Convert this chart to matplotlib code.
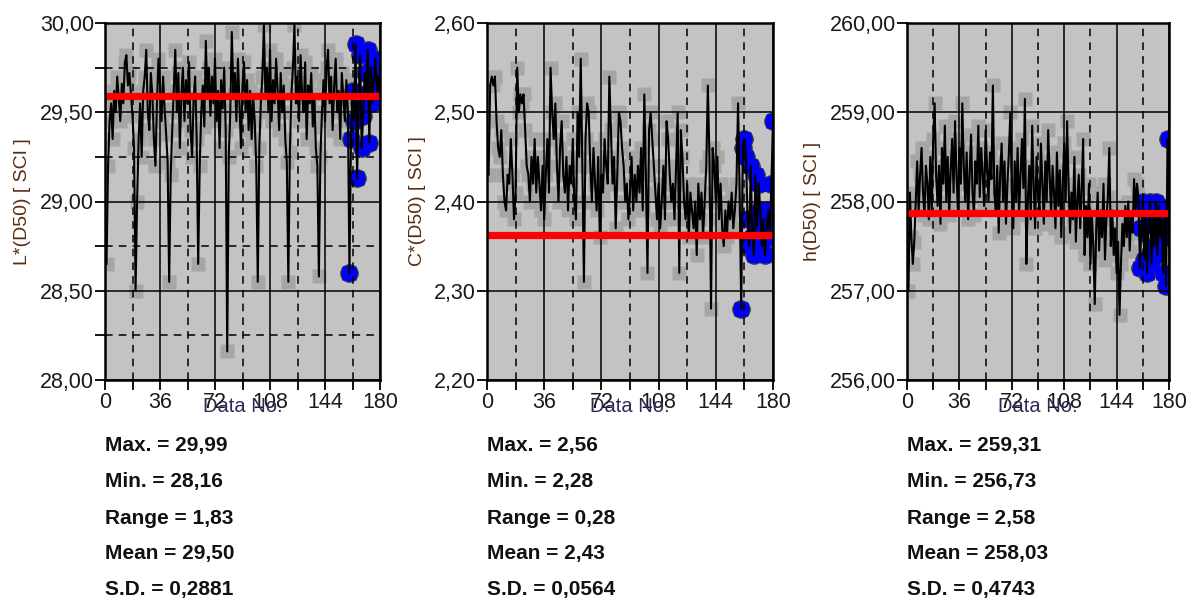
import matplotlib
matplotlib.use("Agg")
import matplotlib.pyplot as plt
from matplotlib.ticker import FixedLocator, FuncFormatter

plt.rcParams['font.family'] = ['Liberation Sans', 'DejaVu Sans']

# ---------------- data ----------------
data_no = list(range(1, 181))

l_values = [
    28.65,
    29.20, 29.45, 29.55, 29.35, 29.62, 29.50, 29.70, 29.58, 29.45, 29.66, 29.55, 29.78, 29.82, 29.65, 29.72, 29.60, 29.48, 29.30,
    28.50,
    29.00, 29.35, 29.55, 29.25, 29.62, 29.70, 29.85, 29.50, 29.40, 29.72, 29.60, 29.35, 29.20, 29.55, 29.80, 29.65, 29.45, 29.70, 29.52, 29.38, 29.22,
    28.55,
    29.15, 29.40, 29.62, 29.85, 29.50, 29.72, 29.30, 29.60, 29.75, 29.45, 29.68, 29.55, 29.78, 29.40, 29.25, 29.58, 29.70, 29.35,
    28.65,
    29.20, 29.50, 29.65, 29.42, 29.90, 29.60, 29.75, 29.48, 29.70, 29.55, 29.80, 29.45, 29.62, 29.30, 29.68, 29.52, 29.75, 29.40,
    28.16,
    29.25, 29.50, 29.95, 29.60, 29.72, 29.45, 29.80, 29.55, 29.30, 29.65, 29.78, 29.50, 29.68, 29.40, 29.62, 29.35, 29.58, 29.45, 29.20,
    28.55,
    29.30, 29.55, 29.70, 29.99, 29.60, 29.75, 29.50, 29.85, 29.45, 29.68, 29.55, 29.80, 29.62, 29.40, 29.72, 29.50, 29.65, 29.35, 29.22,
    28.55,
    29.28, 29.60, 29.75, 29.99, 29.55, 29.70, 29.45, 29.82, 29.60, 29.50, 29.78, 29.35, 29.65, 29.55, 29.72, 29.42, 29.60, 29.30, 29.20,
    28.58,
    29.25, 29.50, 29.68, 29.45, 29.75, 29.85, 29.55, 29.70, 29.40, 29.65, 29.80, 29.50, 29.62, 29.35, 29.72, 29.58, 29.45, 29.68, 29.50,
    28.60,
    29.35, 29.62, 29.45, 29.88, 29.13, 29.55, 29.82, 29.30, 29.48, 29.72, 29.60, 29.85, 29.33, 29.75, 29.55, 29.68, 29.80, 29.62, 29.70, 29.58,
]

c_values = [
    2.43, 2.53, 2.54, 2.53, 2.54, 2.49, 2.46, 2.45, 2.48, 2.43,
    2.40, 2.39, 2.43, 2.42, 2.47, 2.43, 2.38, 2.41, 2.55, 2.50,
    2.52, 2.51, 2.52, 2.48, 2.44, 2.43, 2.40, 2.45, 2.42, 2.47,
    2.41, 2.45, 2.42, 2.39, 2.44, 2.38, 2.43, 2.47, 2.41, 2.55,
    2.50, 2.47, 2.51, 2.44, 2.40, 2.46, 2.49, 2.43, 2.41, 2.45,
    2.39, 2.44, 2.42, 2.47, 2.40, 2.38, 2.50, 2.45, 2.56, 2.44,
    2.31, 2.47, 2.51, 2.50, 2.44, 2.40, 2.46, 2.42, 2.39, 2.45,
    2.36, 2.43, 2.41, 2.47, 2.44, 2.42, 2.54, 2.48, 2.42, 2.45,
    2.37, 2.43, 2.50, 2.49, 2.46, 2.44, 2.40, 2.42, 2.38, 2.41,
    2.45, 2.39, 2.43, 2.40, 2.44, 2.41, 2.46, 2.39, 2.52, 2.43,
    2.32, 2.48, 2.50, 2.47, 2.44, 2.41, 2.38, 2.42, 2.37, 2.40,
    2.44, 2.38, 2.49, 2.47, 2.43, 2.40, 2.42, 2.38, 2.44, 2.50,
    2.32, 2.48, 2.45, 2.40, 2.38, 2.42, 2.36, 2.41, 2.39, 2.37,
    2.40, 2.34, 2.42, 2.38, 2.41, 2.36, 2.40, 2.44, 2.53, 2.45,
    2.28, 2.46, 2.44, 2.40, 2.45, 2.38, 2.42, 2.37, 2.35, 2.39,
    2.36, 2.40, 2.38, 2.41, 2.37, 2.39, 2.42, 2.51, 2.41, 2.28,
    2.46, 2.47, 2.45, 2.38, 2.35, 2.44, 2.36, 2.34, 2.43, 2.37,
    2.42, 2.39, 2.35, 2.38, 2.34, 2.37, 2.39, 2.36, 2.42, 2.49,
]

h_values = [
    257.00, 258.10, 257.60, 257.30, 257.55, 258.00, 258.45, 257.90, 258.30, 258.60,
    258.10, 257.85, 258.40, 258.20, 257.80, 258.50, 257.90, 258.70, 259.10, 258.30,
    257.95, 258.40, 257.75, 258.60, 258.20, 258.85, 258.00, 258.50, 257.85, 258.35,
    258.70, 258.10, 258.90, 258.30, 257.90, 258.60, 258.20, 259.10, 258.40, 258.00,
    258.55, 257.80, 258.30, 258.75, 258.10, 257.85, 258.45, 258.20, 258.85, 258.05,
    258.60, 258.30, 257.95, 258.80, 258.40, 258.00, 258.55, 258.25, 259.30, 258.10,
    257.90, 258.40, 257.65, 258.30, 258.65, 258.00, 258.45, 257.75, 258.20, 258.55,
    259.00, 258.10, 257.70, 258.45, 258.00, 258.60, 257.85, 258.30, 258.70, 258.15,
    259.15, 257.30, 258.00, 258.40, 257.80, 258.85, 258.20, 257.70, 258.50, 258.10,
    257.90, 258.65, 258.20, 257.75, 258.45, 258.00, 258.80, 258.30, 257.85, 258.40,
    258.10, 257.70, 258.55, 257.95, 258.35, 257.60, 258.20, 258.65, 258.00, 258.90,
    258.20, 257.65, 258.10, 257.80, 258.50, 257.55, 258.00, 258.30, 257.70, 258.15,
    258.70, 257.40, 257.95, 257.60, 258.20, 257.30, 257.85, 257.50, 256.85, 257.70,
    258.10, 257.45, 257.90, 257.60, 258.20, 257.35, 257.80, 258.05, 258.60, 257.50,
    257.90, 257.40, 257.70, 257.20, 257.55, 256.73, 257.30, 257.75, 257.50, 257.95,
    257.60, 258.00, 257.45, 257.85, 257.65, 258.25, 257.90, 258.20, 258.05, 257.25,
    257.70, 258.00, 257.35, 257.90, 257.20, 257.75, 258.00, 257.30, 257.85, 257.50,
    258.00, 257.40, 257.95, 257.60, 257.80, 257.20, 257.90, 257.05, 258.70, 257.60,
]

highlight_start = 160          # data no. from which points are marked blue
target_values = [29.59, 2.362, 257.87]   # red reference lines

y_labels = ["L*(D50) [ SCI ]", "C*(D50) [ SCI ]", "h(D50) [ SCI ]"]
x_label = "Data No."
x_ticks = [0, 36, 72, 108, 144, 180]
x_minor_ticks = [18, 54, 90, 126, 162]
y_ticks = [[28.0, 28.5, 29.0, 29.5, 30.0],
           [2.2, 2.3, 2.4, 2.5, 2.6],
           [256.0, 257.0, 258.0, 259.0, 260.0]]
y_minor_ticks = [[28.25, 28.75, 29.25, 29.75], [], []]

stat_names = ["Max.", "Min.", "Range", "Mean", "S.D."]
stat_values = [["29,99", "28,16", "1,83", "29,50", "0,2881"],
               ["2,56", "2,28", "0,28", "2,43", "0,0564"],
               ["259,31", "256,73", "2,58", "258,03", "0,4743"]]

series = [l_values, c_values, h_values]

# ---------------- layout ----------------
W, H = 1192, 601
fig = plt.figure(figsize=(W / 100, H / 100), dpi=100)
panel_px = [(105, 380), (487, 773), (907, 1169)]
top_px, bottom_px = 23, 380
stat_rows_px = [445, 482, 518, 553, 590]

bg = '#c3c3c3'
square_col = '#a6a6a6'

for k, (vals, (lpx, rpx)) in enumerate(zip(series, panel_px)):
    ax = fig.add_axes([lpx / W, 1 - bottom_px / H, (rpx - lpx) / W, (bottom_px - top_px) / H])
    ax.set_facecolor(bg)
    ax.set_xlim(0, 180)
    ax.set_ylim(y_ticks[k][0], y_ticks[k][-1])

    xs = data_no
    hx = [x for x in xs if x >= highlight_start]
    hy = [v for x, v in zip(xs, vals) if x >= highlight_start]

    ax.plot(xs, vals, linestyle='none', marker='s', ms=10.5, mfc=square_col,
            mec='none', zorder=1, clip_on=True)
    ax.plot(hx, hy, linestyle='none', marker='o', ms=12.5, mfc='#0000f5',
            mec='#3a3a3a', mew=0.9, zorder=2)
    ax.plot(hx, hy, linestyle='none', marker='s', ms=9.5, mfc='#0000f5',
            mec='none', zorder=2.1)
    ax.plot(xs, vals, color='black', lw=1.5, zorder=3)
    ax.plot([0, 180], [target_values[k]] * 2, color='#ff0000', lw=5.2,
            solid_capstyle='butt', zorder=4)

    ax.xaxis.set_major_locator(FixedLocator(x_ticks))
    ax.xaxis.set_minor_locator(FixedLocator(x_minor_ticks))
    ax.yaxis.set_major_locator(FixedLocator(y_ticks[k]))
    ax.yaxis.set_minor_locator(FixedLocator(y_minor_ticks[k]))
    ax.yaxis.set_major_formatter(FuncFormatter(lambda v, p: f"{v:.2f}".replace('.', ',')))

    ax.set_axisbelow(False)
    ax.grid(which='major', color='black', lw=1.1, ls='-')
    ax.grid(which='minor', axis='x', color='black', lw=1.1, ls=(0, (5, 4)))
    if y_minor_ticks[k]:
        ax.grid(which='minor', axis='y', color='black', lw=1.1, ls=(0, (5, 4)))

    for s in ax.spines.values():
        s.set_linewidth(1.8)
        s.set_color('black')
        s.set_zorder(5)

    ax.tick_params(which='both', direction='out', length=7, width=1.3,
                   colors='black', labelcolor='#1a1a1a', labelsize=15.5, pad=1)
    ax.tick_params(axis='x', pad=2)

    ax.set_ylabel(y_labels[k], fontsize=14, color='#5a2c12', labelpad=6)
    ax.set_xlabel(x_label, fontsize=14.5, color='#2b2b55', labelpad=-12)

    for name, val, ypx in zip(stat_names, stat_values[k], stat_rows_px):
        fig.text(lpx / W, 1 - ypx / H, f"{name} = {val}", fontsize=15,
                 fontweight='bold', color='#111111', ha='left', va='center')

fig.savefig("out.png", dpi=100)
